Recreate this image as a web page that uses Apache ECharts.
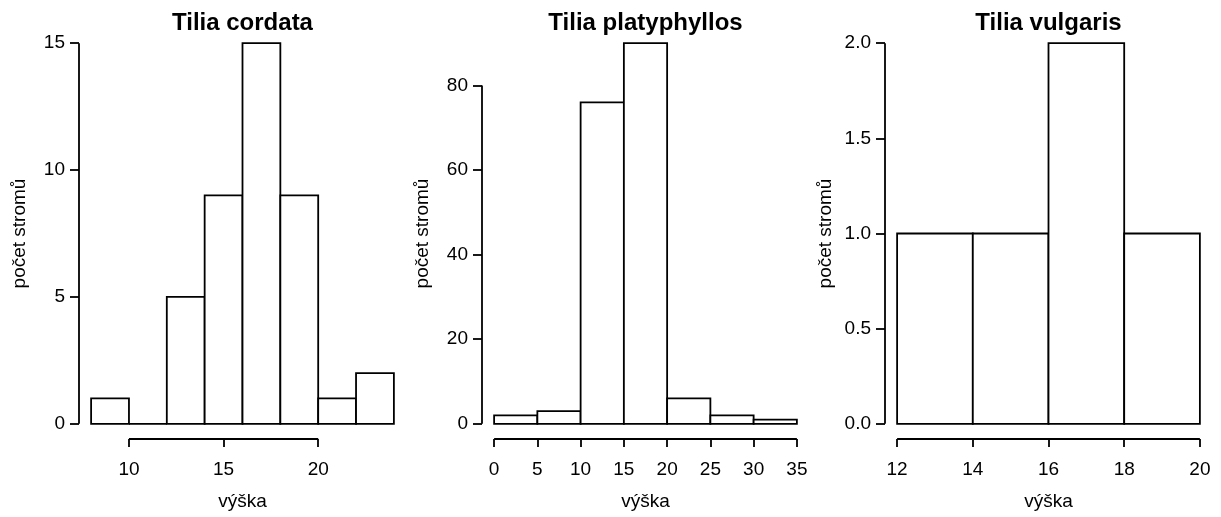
<!DOCTYPE html>
<html>
<head>
<meta charset="utf-8">
<script src="https://cdn.jsdelivr.net/npm/echarts@6/dist/echarts.min.js"></script>
<style>
  html, body { margin: 0; padding: 0; background: #fff; }
  #chart { width: 1221px; height: 517px; }
</style>
</head>
<body>
<div id="chart"></div>
<script>
// ---- data ----
const titles = ['Tilia cordata', 'Tilia platyphyllos', 'Tilia vulgaris'];
const xAxisName = 'výška';
const yAxisName = 'počet stromů';

const cordataBreaks = [8, 10, 12, 14, 16, 18, 20, 22, 24];
const cordataCounts = [1, 0, 5, 9, 15, 9, 1, 2];
const cordataXTicks = [10, 15, 20];
const cordataYTicks = [0, 5, 10, 15];

const platyBreaks = [0, 5, 10, 15, 20, 25, 30, 35];
const platyCounts = [2, 3, 76, 90, 6, 2, 1];
const platyXTicks = [0, 5, 10, 15, 20, 25, 30, 35];
const platyYTicks = [0, 20, 40, 60, 80];

const vulgBreaks = [12, 14, 16, 18, 20];
const vulgCounts = [1, 1, 2, 1];
const vulgXTicks = [12, 14, 16, 18, 20];
const vulgYTicks = [0, 0.5, 1.0, 1.5, 2.0];

const panels = [
  { breaks: cordataBreaks, counts: cordataCounts, xt: cordataXTicks, yt: cordataYTicks, dec: 0 },
  { breaks: platyBreaks, counts: platyCounts, xt: platyXTicks, yt: platyYTicks, dec: 0 },
  { breaks: vulgBreaks, counts: vulgCounts, xt: vulgXTicks, yt: vulgYTicks, dec: 1 }
];

// ---- layout ----
const gridLefts = [79, 482, 885];
const gridWidth = 327;
const gridTop = 28;
const gridHeight = 411;
const FONT = '"Liberation Sans", Arial, Helvetica, sans-serif';
const LABEL_SIZE = 19;
const NAME_SIZE = 19;
const TITLE_SIZE = 24;
const LW = 1.8;

const option = {
  backgroundColor: '#ffffff',
  animation: false,
  textStyle: { fontFamily: FONT, color: '#000' },
  title: [], grid: [], xAxis: [], yAxis: [], series: []
};

panels.forEach((p, i) => {
  const x0 = p.breaks[0], x1 = p.breaks[p.breaks.length - 1];
  const xExt = 0.04 * (x1 - x0);
  const yMax = Math.max(...p.counts);
  const yExt = 0.04 * yMax;
  const xMin = x0 - xExt, xMax = x1 + xExt;
  const yMin = -yExt, yMaxA = yMax + yExt;

  option.title.push({
    text: titles[i],
    left: gridLefts[i] + gridWidth / 2,
    top: 11,
    textAlign: 'center',
    padding: 0,
    textStyle: { fontFamily: FONT, fontSize: TITLE_SIZE, fontWeight: 'bold', color: '#000' }
  });
  option.grid.push({ left: gridLefts[i], top: gridTop, width: gridWidth, height: gridHeight, containLabel: false });
  option.xAxis.push({
    gridIndex: i, type: 'value', min: xMin, max: xMax,
    name: xAxisName, nameLocation: 'middle', nameGap: 53,
    nameTextStyle: { fontFamily: FONT, fontSize: NAME_SIZE, color: '#000' },
    axisLine: { show: false, onZero: false },
    splitLine: { show: false },
    axisTick: { show: true, inside: false, length: 8, customValues: p.xt, lineStyle: { color: '#000', width: LW } },
    axisLabel: { show: true, margin: 21, customValues: p.xt, fontFamily: FONT, fontSize: LABEL_SIZE, color: '#000',
      formatter: v => String(v) }
  });
  option.yAxis.push({
    gridIndex: i, type: 'value', min: yMin, max: yMaxA,
    name: yAxisName, nameLocation: 'middle', nameGap: 50, nameRotate: 90,
    nameTextStyle: { fontFamily: FONT, fontSize: NAME_SIZE, color: '#000' },
    axisLine: { show: false, onZero: false },
    splitLine: { show: false },
    axisTick: { show: true, inside: false, length: 9, customValues: p.yt, lineStyle: { color: '#000', width: LW } },
    axisLabel: { show: true, margin: 14, customValues: p.yt, fontFamily: FONT, fontSize: LABEL_SIZE, color: '#000',
      formatter: v => Number(v).toFixed(p.dec) }
  });
  // histogram bars
  option.series.push({
    type: 'custom', xAxisIndex: i, yAxisIndex: i, silent: true, clip: false,
    data: p.counts.map((c, k) => [p.breaks[k], p.breaks[k + 1], c]),
    encode: { x: [0, 1], y: 2 },
    renderItem: (params, api) => {
      const a = api.coord([api.value(0), 0]);
      const b = api.coord([api.value(1), api.value(2)]);
      return {
        type: 'rect',
        shape: { x: a[0], y: b[1], width: b[0] - a[0], height: a[1] - b[1] },
        style: { fill: '#fff', stroke: '#000', lineWidth: LW }
      };
    }
  });
  // R-style axis lines spanning first to last tick
  option.series.push({
    type: 'line', xAxisIndex: i, yAxisIndex: i, silent: true, clip: false, showSymbol: false,
    lineStyle: { color: '#000', width: LW },
    data: [[p.xt[0], yMin], [p.xt[p.xt.length - 1], yMin]]
  });
  option.series.push({
    type: 'line', xAxisIndex: i, yAxisIndex: i, silent: true, clip: false, showSymbol: false,
    lineStyle: { color: '#000', width: LW },
    data: [[xMin, p.yt[0]], [xMin, p.yt[p.yt.length - 1]]]
  });
});

const chart = echarts.init(document.getElementById('chart'), null, { renderer: 'canvas' });
chart.setOption(option);
</script>
</body>
</html>
